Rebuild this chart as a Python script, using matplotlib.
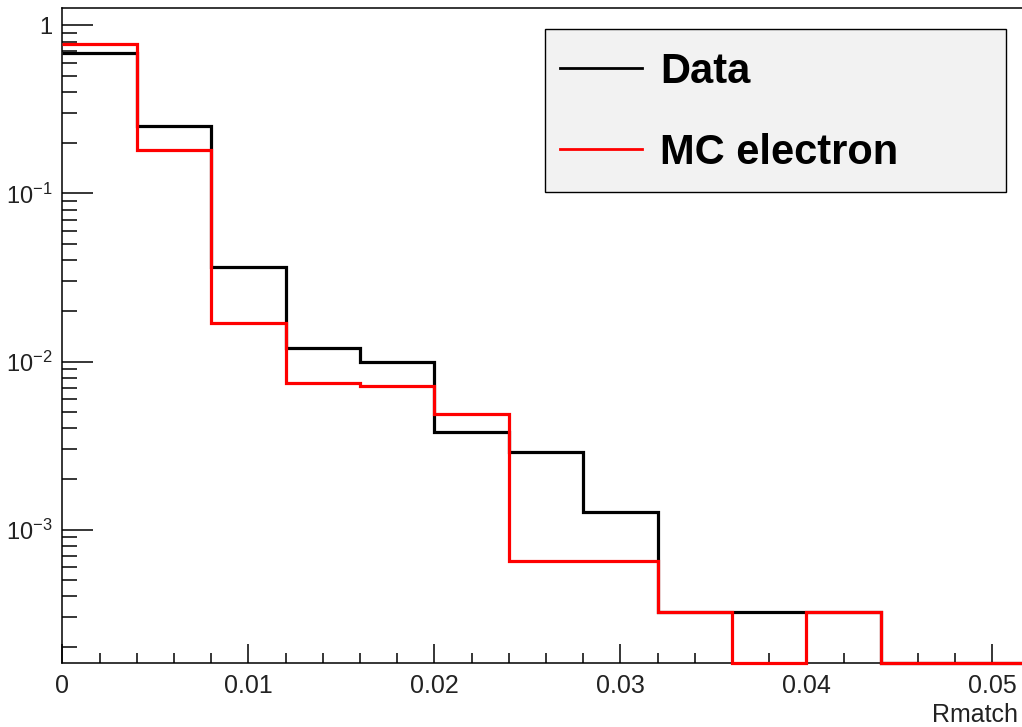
import numpy as np
import matplotlib
matplotlib.use('Agg')
import matplotlib.pyplot as plt
from matplotlib.patches import Rectangle
from matplotlib.ticker import MultipleLocator, LogLocator, FuncFormatter, NullFormatter

plt.rcParams['font.family'] = ['Liberation Sans', 'DejaVu Sans']
plt.rcParams['mathtext.default'] = 'regular'
plt.rcParams['axes.unicode_minus'] = False

# bin edges of Rmatch (width 0.004)
edges = [0.0, 0.004, 0.008, 0.012, 0.016, 0.020, 0.024, 0.028, 0.032, 0.036, 0.040, 0.044, 0.048, 0.052]
# normalised contents (0 = empty bin)
data_vals = [0.683, 0.252, 0.0364, 0.0120, 0.00993, 0.00382, 0.00288, 0.00128, 0.000321, 0.000321, 0.000321, 0.0, 0.0]
mc_vals = [0.779, 0.182, 0.0170, 0.00748, 0.00718, 0.00487, 0.000647, 0.000647, 0.000321, 0.0, 0.000321, 0.0, 0.0]

ymin, ymax = 1.6e-4, 1.265

W, H = 1022, 727
fig = plt.figure(figsize=(W / 100, H / 100), dpi=100)
ax = fig.add_axes([62.3 / W, (H - 663.3) / H, (1029.5 - 62.3) / W, (663.3 - 8.3) / H])

# empty bins are drawn on the bottom of the frame, like ROOT does
d = np.array(data_vals)
m = np.array(mc_vals)
ax.stairs(np.where(d > 0, d, ymin), edges, baseline=None, color='black', lw=2.3,
          label='Data', clip_on=False, zorder=3)
ax.stairs(np.where(m > 0, m, ymin), edges, baseline=None, color='#ff0000', lw=2.3,
          label='MC electron', clip_on=False, zorder=4)

ax.set_yscale('log')
ax.set_xlim(0, 0.052)
ax.set_ylim(ymin, ymax)

ax.xaxis.set_major_locator(MultipleLocator(0.01))
ax.xaxis.set_minor_locator(MultipleLocator(0.002))
ax.xaxis.set_major_formatter(FuncFormatter(lambda v, p: '0' if abs(v) < 1e-9 else '%g' % v))
ax.yaxis.set_major_locator(LogLocator(base=10))
ax.yaxis.set_minor_locator(LogLocator(base=10, subs=np.arange(2, 10)))
ax.yaxis.set_minor_formatter(NullFormatter())
ax.yaxis.set_major_formatter(FuncFormatter(
    lambda v, p: '1' if abs(v - 1) < 1e-9 else r'$10^{%d}$' % round(np.log10(v))))

ax.tick_params(axis='x', which='major', direction='in', length=14, width=1.1, labelsize=18, pad=8,
               labelcolor='#222222')
ax.tick_params(axis='x', which='minor', direction='in', length=7, width=1.1)
ax.tick_params(axis='y', which='major', direction='in', length=22, width=1.1, labelsize=17, pad=7,
               labelcolor='#222222')
ax.tick_params(axis='y', which='minor', direction='in', length=11, width=1.1)
for s in ax.spines.values():
    s.set_linewidth(1.1)

ax.set_xlabel('Rmatch', fontsize=18, color='#222222')
ax.xaxis.set_label_coords((1018 - 62.3) / (1029.5 - 62.3), -0.061)
ax.xaxis.label.set_horizontalalignment('right')

# legend box (ROOT TLegend style), drawn as its own patch
ax.add_patch(Rectangle((545 / W, 1 - 192 / H), (1006 - 545) / W, (192 - 29) / H,
                       transform=fig.transFigure, facecolor='#f2f2f2',
                       edgecolor='black', lw=1.0, zorder=5, clip_on=False))
leg = ax.legend(loc='upper left', bbox_to_anchor=(560 / W, 1 - 52 / H),
                bbox_transform=fig.transFigure,
                prop={'weight': 'bold', 'size': 30}, frameon=False,
                handlelength=1.97, handletextpad=0.43, labelspacing=0.98,
                borderpad=0.0, borderaxespad=0.0)
leg.set_zorder(6)
for ln in leg.get_lines():
    ln.set_linewidth(2.0)

fig.savefig('out.png', dpi=100)
